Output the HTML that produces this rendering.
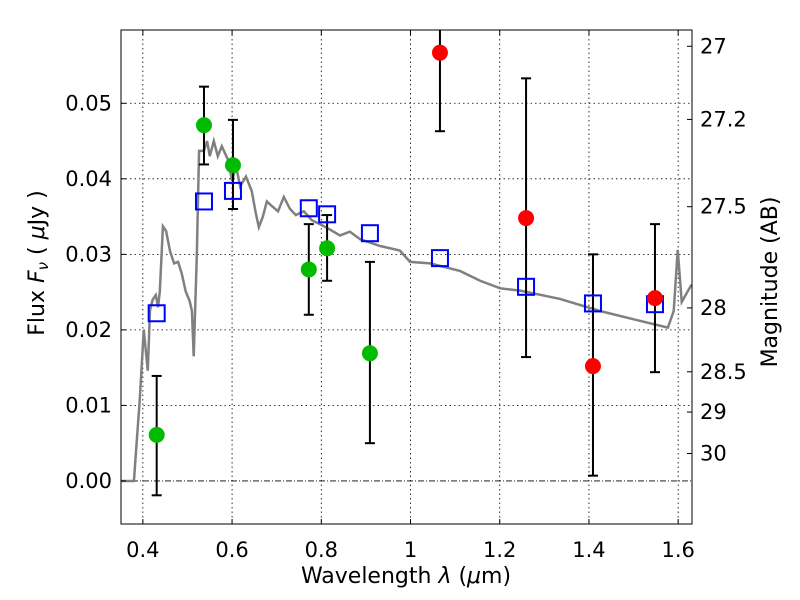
<!DOCTYPE html>
<html><head><meta charset="utf-8"><style>
body{margin:0;background:#fff}
svg{display:block;font-family:"DejaVu Sans","Liberation Sans",sans-serif}
</style></head><body>
<svg id="chart" width="800" height="600">
<g id="grid"></g>
<g id="model"></g>
<g id="marks"></g>
<rect x="121" y="30" width="571" height="494" fill="none" stroke="#000" stroke-width="1"/>
<g id="axes"></g>
<text x="406" y="583" text-anchor="middle" font-size="22">Wavelength  <tspan font-style="italic">λ</tspan> (<tspan font-style="italic">μ</tspan>m)</text>
<text transform="translate(44,263) rotate(-90)" text-anchor="middle" font-size="22">Flux  <tspan font-style="italic">F</tspan><tspan font-style="italic" font-size="15" dy="4">ν</tspan><tspan dy="-4">  ( </tspan><tspan font-style="italic">μ</tspan>Jy )</text>
<text transform="translate(777,282) rotate(-90)" text-anchor="middle" font-size="22">Magnitude (AB)</text>
</svg>
<script>
const xTicks=[0.4,0.6,0.8,1.0,1.2,1.4,1.6];
const xTickLabels=["0.4","0.6","0.8","1","1.2","1.4","1.6"];
const yTicks=[0,0.01,0.02,0.03,0.04,0.05];
const yTickLabels=["0.00","0.01","0.02","0.03","0.04","0.05"];
const magTicks=[27,27.2,27.5,28,28.5,29,30];
const magTickLabels=["27","27.2","27.5","28","28.5","29","30"];
const specLam=[0.351,0.380,0.384,0.393,0.402,0.411,0.416,0.422,0.429,0.434,0.438,0.445,0.452,0.461,0.470,0.479,0.487,0.496,0.505,0.510,0.514,0.521,0.526,0.537,0.544,0.550,0.559,0.568,0.577,0.591,0.600,0.609,0.618,0.631,0.644,0.653,0.660,0.669,0.678,0.689,0.703,0.716,0.730,0.743,0.761,0.779,0.797,0.819,0.842,0.864,0.887,0.932,0.976,0.999,1.044,1.111,1.156,1.201,1.246,1.335,1.425,1.514,1.577,1.590,1.599,1.608,1.630];
const specFlux=[0,0,0.0034,0.0107,0.0200,0.0146,0.0226,0.0240,0.0246,0.0230,0.0251,0.0337,0.0331,0.0304,0.0288,0.0290,0.0275,0.0251,0.0238,0.0225,0.0165,0.0300,0.0437,0.0437,0.0450,0.0430,0.0450,0.0430,0.0443,0.0425,0.0397,0.0417,0.0390,0.0403,0.0384,0.0355,0.0336,0.0350,0.0370,0.0364,0.0357,0.0376,0.0360,0.0352,0.0357,0.0345,0.0340,0.0333,0.0325,0.0330,0.0320,0.0311,0.0305,0.0290,0.0288,0.0278,0.0265,0.0255,0.0252,0.0241,0.0225,0.0212,0.0203,0.0225,0.0306,0.0237,0.0260];
const greenLam=[0.431,0.537,0.602,0.772,0.813,0.909];
const greenFlux=[0.0061,0.0471,0.0418,0.0280,0.0308,0.0169];
const greenLo=[-0.0019,0.0419,0.0360,0.0220,0.0265,0.0050];
const greenHi=[0.0139,0.0522,0.0478,0.0340,0.0352,0.0290];
const redLam=[1.066,1.259,1.409,1.548];
const redFlux=[0.0567,0.0348,0.0152,0.0242];
const redLo=[0.0463,0.0164,0.0007,0.0144];
const redHi=[0.0671,0.0533,0.0300,0.0340];
const blueLam=[0.431,0.537,0.602,0.772,0.813,0.909,1.066,1.259,1.409,1.548];
const blueFlux=[0.0222,0.0370,0.0384,0.0361,0.0353,0.0328,0.0295,0.0257,0.0235,0.0234];

const L=121,R=692,T=30,B=524,X0=0.351,X1=1.631,Y0=-0.0057,Y1=0.0597;
const sx=v=>L+(v-X0)/(X1-X0)*(R-L);
const sy=v=>B-(v-Y0)/(Y1-Y0)*(B-T);
const NS="http://www.w3.org/2000/svg";
function mk(tag,parent,attrs){const e=document.createElementNS(NS,tag);for(const k in attrs)e.setAttribute(k,attrs[k]);parent.appendChild(e);return e;}
const grid=document.getElementById('grid'),axes=document.getElementById('axes'),model=document.getElementById('model'),marks=document.getElementById('marks');
xTicks.forEach((v,i)=>{const x=sx(v);
 let g=mk('line',grid,{x1:x,x2:x,y1:T,y2:B,stroke:'#000','stroke-dasharray':'1.5,3','stroke-width':0.8});
 
 mk('line',axes,{x1:x,x2:x,y1:B,y2:B-5,stroke:'#000'});mk('line',axes,{x1:x,x2:x,y1:T,y2:T+5,stroke:'#000'});
 let t=mk('text',axes,{x:x,y:557,'text-anchor':'middle','font-size':21});t.textContent=xTickLabels[i];
 });
yTicks.forEach((v,i)=>{const y=sy(v);
 let g=mk('line',grid,{x1:L,x2:R,y1:y,y2:y,stroke:'#000','stroke-dasharray':v===0?'6,2,1,2':'1.5,3','stroke-width':0.8});
 
 mk('line',axes,{x1:L,x2:L+5,y1:y,y2:y,stroke:'#000'});
 let t=mk('text',axes,{x:112,y:y+7,'text-anchor':'end','font-size':21});t.textContent=yTickLabels[i];
 });
magTicks.forEach((m,i)=>{const y=sy(Math.pow(10,(23.9-m)/2.5));
 mk('line',axes,{x1:R-5,x2:R,y1:y,y2:y,stroke:'#000'});
 let t=mk('text',axes,{x:700,y:y+7,'text-anchor':'start','font-size':21});t.textContent=magTickLabels[i];
 });
let p=mk('polyline',model,{points:specLam.map((l,i)=>sx(l)+','+sy(specFlux[i])).join(' '),fill:'none',stroke:'#808080','stroke-width':2.5});

function clip(y){return Math.max(T,Math.min(B,y));}
function err(lam,lo,hi){const x=sx(lam),y1=sy(hi),y2=sy(lo);
 let e=mk('line',marks,{x1:x,x2:x,y1:clip(y1),y2:clip(y2),stroke:'#000','stroke-width':2});
 
 if(y1>=T)mk('line',marks,{x1:x-5,x2:x+5,y1:y1,y2:y1,stroke:'#000','stroke-width':2});
 if(y2<=B)mk('line',marks,{x1:x-5,x2:x+5,y1:y2,y2:y2,stroke:'#000','stroke-width':2});}
greenLam.forEach((l,i)=>err(l,greenLo[i],greenHi[i]));
redLam.forEach((l,i)=>err(l,redLo[i],redHi[i]));
blueLam.forEach((l,i)=>{let r=mk('rect',marks,{x:sx(l)-8,y:sy(blueFlux[i])-8,width:16,height:16,fill:'none',stroke:'#0000ff','stroke-width':2});
 });
greenLam.forEach((l,i)=>{let c=mk('circle',marks,{cx:sx(l),cy:sy(greenFlux[i]),r:8,fill:'#00bb00'});
 });
redLam.forEach((l,i)=>{let c=mk('circle',marks,{cx:sx(l),cy:sy(redFlux[i]),r:8,fill:'#ff0000'});
 });
</script>
</body></html>
